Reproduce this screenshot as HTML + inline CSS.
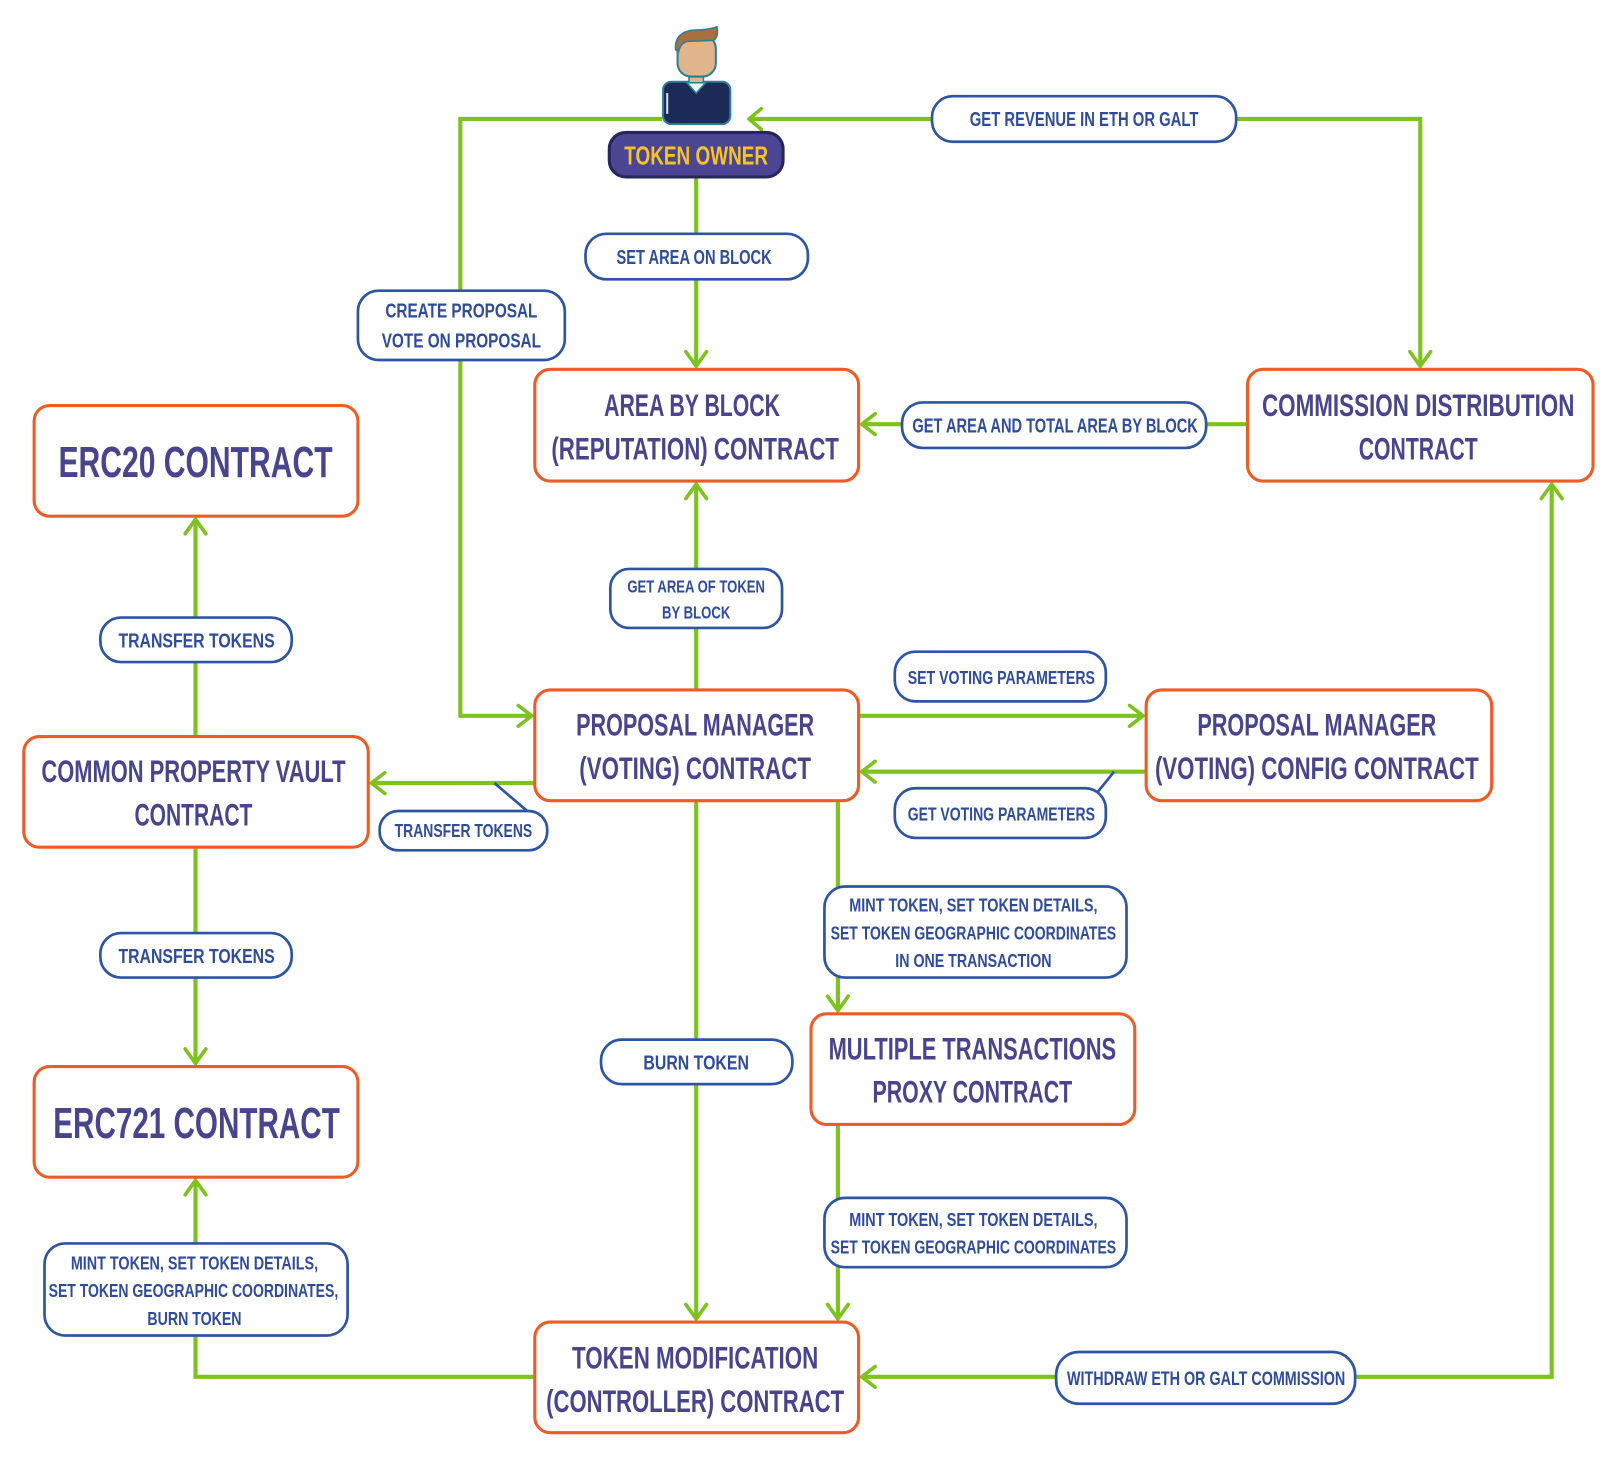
<!DOCTYPE html>
<html><head><meta charset="utf-8"><style>
html,body{margin:0;padding:0;background:#fff}
svg{display:block}
.b{fill:#fff;stroke:#ef5b25;stroke-width:3}
.p{fill:#fff;stroke:#2e55a3;stroke-width:2.6}
.g{fill:none;stroke:#7dc21e;stroke-width:4;stroke-linejoin:miter}
.a{fill:none;stroke:#7dc21e;stroke-width:3.5;stroke-linecap:round;stroke-linejoin:round}
.t{font-family:"Liberation Sans Narrow","Liberation Sans",sans-serif;font-weight:bold;fill:#48448e;text-anchor:middle}
.l{font-family:"Liberation Sans Narrow","Liberation Sans",sans-serif;font-weight:bold;fill:#2e4b9e;text-anchor:middle}
</style></head><body>
<svg width="1622" height="1471" viewBox="0 0 1568 1422" xmlns="http://www.w3.org/2000/svg">
<!-- connectors -->
<polyline class="g" points="640,115 445,115 445,692 513,692"/>
<polyline class="a" points="501,682 514,692 501,702"/>
<polyline class="g" points="726,115 1373,115 1373,353"/>
<polyline class="a" points="736,105 724,115 736,125"/>
<polyline class="a" points="1363,340 1373,354 1383,340"/>
<polyline class="g" points="673,171 673,353"/>
<polyline class="a" points="663,340 673,354 683,340"/>
<polyline class="g" points="1206,410 834,410"/>
<polyline class="a" points="846,400 833,410 846,420"/>
<polyline class="g" points="673,667 673,469"/>
<polyline class="a" points="663,482 673,468 683,482"/>
<polyline class="g" points="189,712 189,503"/>
<polyline class="a" points="179,516 189,502 199,516"/>
<polyline class="g" points="517,757 360,757"/>
<polyline class="a" points="372,747 359,757 372,767"/>
<polyline class="g" points="189,819 189,1027"/>
<polyline class="a" points="179,1014 189,1028 199,1014"/>
<polyline class="g" points="830,692 1104,692"/>
<polyline class="a" points="1092,682 1105,692 1092,702"/>
<polyline class="g" points="1108,746 834,746"/>
<polyline class="a" points="846,736 833,746 846,756"/>
<polyline class="g" points="810,774 810,976"/>
<polyline class="a" points="800,963 810,977 820,963"/>
<polyline class="g" points="673,774 673,1274"/>
<polyline class="a" points="663,1261 673,1275 683,1261"/>
<polyline class="g" points="810,1087 810,1274"/>
<polyline class="a" points="800,1261 810,1275 820,1261"/>
<polyline class="g" points="517,1331 189,1331 189,1142"/>
<polyline class="a" points="179,1155 189,1141 199,1155"/>
<polyline class="g" points="1500,469 1500,1331 834,1331"/>
<polyline class="a" points="1490,482 1500,468 1510,482"/>
<polyline class="a" points="846,1321 833,1331 846,1341"/>
<!-- callout tails -->
<polyline points="478,757 512,786" style="fill:none;stroke:#2e55a3;stroke-width:2.6"/>
<polyline points="1077,746 1060,767" style="fill:none;stroke:#2e55a3;stroke-width:2.6"/>

<!-- person -->
<rect x="641" y="79" width="65" height="41" rx="8" fill="#1c2a57" stroke="#2d7f96" stroke-width="2"/>
<polygon points="663,79 673,90 683,79" fill="#eaf3f7" stroke="#2d7f96" stroke-width="1.5"/>
<rect x="666" y="66" width="14" height="14" fill="#e1b58c" stroke="#2d7f96" stroke-width="1.5"/>
<rect x="655" y="34" width="37" height="40" rx="13" fill="#e1b58c" stroke="#2d7f96" stroke-width="2"/>
<path d="M653,48 Q652,30 672,29 Q685,29 693,26 Q695,35 690,39 L665,40 Q658,41 656,50 Z" fill="#a86f3f" stroke="#2d7f96" stroke-width="1.5"/>
<line x1="645" y1="90" x2="645" y2="110" stroke="#cfe3ec" stroke-width="2"/>

<!-- token owner -->
<rect x="589" y="128" width="168" height="43" rx="16" fill="#4b4594" stroke="#28245c" stroke-width="3"/>
<text class="t" x="673" y="159" font-size="25" fill="#f7c326" style="fill:#f7c326" textLength="139" lengthAdjust="spacingAndGlyphs">TOKEN OWNER</text>

<!-- boxes -->
<rect class="b" x="33" y="392" width="313" height="107" rx="15"/>
<text class="t" x="189" y="461" font-size="42" textLength="265" lengthAdjust="spacingAndGlyphs">ERC20 CONTRACT</text>

<rect class="b" x="517" y="357" width="313" height="108" rx="15"/>
<text class="t" x="669" y="402" font-size="30" textLength="170" lengthAdjust="spacingAndGlyphs">AREA BY BLOCK</text>
<text class="t" x="672" y="444" font-size="30" textLength="278" lengthAdjust="spacingAndGlyphs">(REPUTATION) CONTRACT</text>

<rect class="b" x="1206" y="357" width="334" height="108" rx="15"/>
<text class="t" x="1371" y="402" font-size="30" textLength="302" lengthAdjust="spacingAndGlyphs">COMMISSION DISTRIBUTION</text>
<text class="t" x="1371" y="444" font-size="30" textLength="115" lengthAdjust="spacingAndGlyphs">CONTRACT</text>

<rect class="b" x="23" y="712" width="333" height="107" rx="15"/>
<text class="t" x="187" y="756" font-size="30" textLength="294" lengthAdjust="spacingAndGlyphs">COMMON PROPERTY VAULT</text>
<text class="t" x="187" y="798" font-size="30" textLength="114" lengthAdjust="spacingAndGlyphs">CONTRACT</text>

<rect class="b" x="517" y="667" width="313" height="107" rx="15"/>
<text class="t" x="672" y="711" font-size="30" textLength="230" lengthAdjust="spacingAndGlyphs">PROPOSAL MANAGER</text>
<text class="t" x="672" y="753" font-size="30" textLength="224" lengthAdjust="spacingAndGlyphs">(VOTING) CONTRACT</text>

<rect class="b" x="1108" y="667" width="334" height="107" rx="15"/>
<text class="t" x="1273" y="711" font-size="30" textLength="231" lengthAdjust="spacingAndGlyphs">PROPOSAL MANAGER</text>
<text class="t" x="1273" y="753" font-size="30" textLength="313" lengthAdjust="spacingAndGlyphs">(VOTING) CONFIG CONTRACT</text>

<rect class="b" x="784" y="980" width="313" height="107" rx="15"/>
<text class="t" x="940" y="1024" font-size="30" textLength="278" lengthAdjust="spacingAndGlyphs">MULTIPLE TRANSACTIONS</text>
<text class="t" x="940" y="1066" font-size="30" textLength="193" lengthAdjust="spacingAndGlyphs">PROXY CONTRACT</text>

<rect class="b" x="33" y="1031" width="313" height="107" rx="15"/>
<text class="t" x="190" y="1100" font-size="42" textLength="277" lengthAdjust="spacingAndGlyphs">ERC721 CONTRACT</text>

<rect class="b" x="517" y="1278" width="313" height="107" rx="15"/>
<text class="t" x="672" y="1323" font-size="30" textLength="238" lengthAdjust="spacingAndGlyphs">TOKEN MODIFICATION</text>
<text class="t" x="672" y="1365" font-size="30" textLength="288" lengthAdjust="spacingAndGlyphs">(CONTROLLER) CONTRACT</text>

<!-- labels -->
<rect class="p" x="901" y="93" width="294" height="44" rx="20"/>
<text class="l" x="1048" y="122" font-size="20" textLength="221" lengthAdjust="spacingAndGlyphs">GET REVENUE IN ETH OR GALT</text>

<rect class="p" x="566" y="226" width="215" height="44" rx="20"/>
<text class="l" x="671" y="255" font-size="20" textLength="150" lengthAdjust="spacingAndGlyphs">SET AREA ON BLOCK</text>

<rect class="p" x="346" y="281" width="200" height="67" rx="20"/>
<text class="l" x="446" y="307" font-size="20" textLength="147" lengthAdjust="spacingAndGlyphs">CREATE PROPOSAL</text>
<text class="l" x="446" y="336" font-size="20" textLength="154" lengthAdjust="spacingAndGlyphs">VOTE ON PROPOSAL</text>

<rect class="p" x="872" y="389" width="294" height="44" rx="20"/>
<text class="l" x="1020" y="418" font-size="20" textLength="276" lengthAdjust="spacingAndGlyphs">GET AREA AND TOTAL AREA BY BLOCK</text>

<rect class="p" x="590" y="550" width="166" height="57" rx="18"/>
<text class="l" x="673" y="573" font-size="17" textLength="133" lengthAdjust="spacingAndGlyphs">GET AREA OF TOKEN</text>
<text class="l" x="673" y="598" font-size="17" textLength="66" lengthAdjust="spacingAndGlyphs">BY BLOCK</text>

<rect class="p" x="97" y="597" width="185" height="43" rx="20"/>
<text class="l" x="190" y="626" font-size="20" textLength="151" lengthAdjust="spacingAndGlyphs">TRANSFER TOKENS</text>

<rect class="p" x="865" y="630" width="204" height="48" rx="20"/>
<text class="l" x="968" y="661" font-size="18" textLength="181" lengthAdjust="spacingAndGlyphs">SET VOTING PARAMETERS</text>

<rect class="p" x="865" y="762" width="204" height="48" rx="20"/>
<text class="l" x="968" y="793" font-size="18" textLength="181" lengthAdjust="spacingAndGlyphs">GET VOTING PARAMETERS</text>

<rect class="p" x="367" y="784" width="162" height="38" rx="18"/>
<text class="l" x="448" y="809" font-size="18" textLength="133" lengthAdjust="spacingAndGlyphs">TRANSFER TOKENS</text>

<rect class="p" x="97" y="902" width="185" height="43" rx="20"/>
<text class="l" x="190" y="931" font-size="20" textLength="151" lengthAdjust="spacingAndGlyphs">TRANSFER TOKENS</text>

<rect class="p" x="797" y="857" width="292" height="88" rx="20"/>
<text class="l" x="941" y="881" font-size="18" textLength="240" lengthAdjust="spacingAndGlyphs">MINT TOKEN, SET TOKEN DETAILS,</text>
<text class="l" x="941" y="908" font-size="18" textLength="276" lengthAdjust="spacingAndGlyphs">SET TOKEN GEOGRAPHIC COORDINATES</text>
<text class="l" x="941" y="935" font-size="18" textLength="151" lengthAdjust="spacingAndGlyphs">IN ONE TRANSACTION</text>

<rect class="p" x="581" y="1005" width="185" height="43" rx="20"/>
<text class="l" x="673" y="1034" font-size="20" textLength="102" lengthAdjust="spacingAndGlyphs">BURN TOKEN</text>

<rect class="p" x="797" y="1158" width="292" height="67" rx="20"/>
<text class="l" x="941" y="1185" font-size="18" textLength="240" lengthAdjust="spacingAndGlyphs">MINT TOKEN, SET TOKEN DETAILS,</text>
<text class="l" x="941" y="1212" font-size="18" textLength="276" lengthAdjust="spacingAndGlyphs">SET TOKEN GEOGRAPHIC COORDINATES</text>

<rect class="p" x="43" y="1202" width="293" height="89" rx="20"/>
<text class="l" x="188" y="1227" font-size="18" textLength="239" lengthAdjust="spacingAndGlyphs">MINT TOKEN, SET TOKEN DETAILS,</text>
<text class="l" x="187" y="1254" font-size="18" textLength="280" lengthAdjust="spacingAndGlyphs">SET TOKEN GEOGRAPHIC COORDINATES,</text>
<text class="l" x="188" y="1281" font-size="18" textLength="91" lengthAdjust="spacingAndGlyphs">BURN TOKEN</text>

<rect class="p" x="1021" y="1307" width="289" height="50" rx="22"/>
<text class="l" x="1166" y="1339" font-size="19" textLength="269" lengthAdjust="spacingAndGlyphs">WITHDRAW ETH OR GALT COMMISSION</text>
</svg>
</body></html>
